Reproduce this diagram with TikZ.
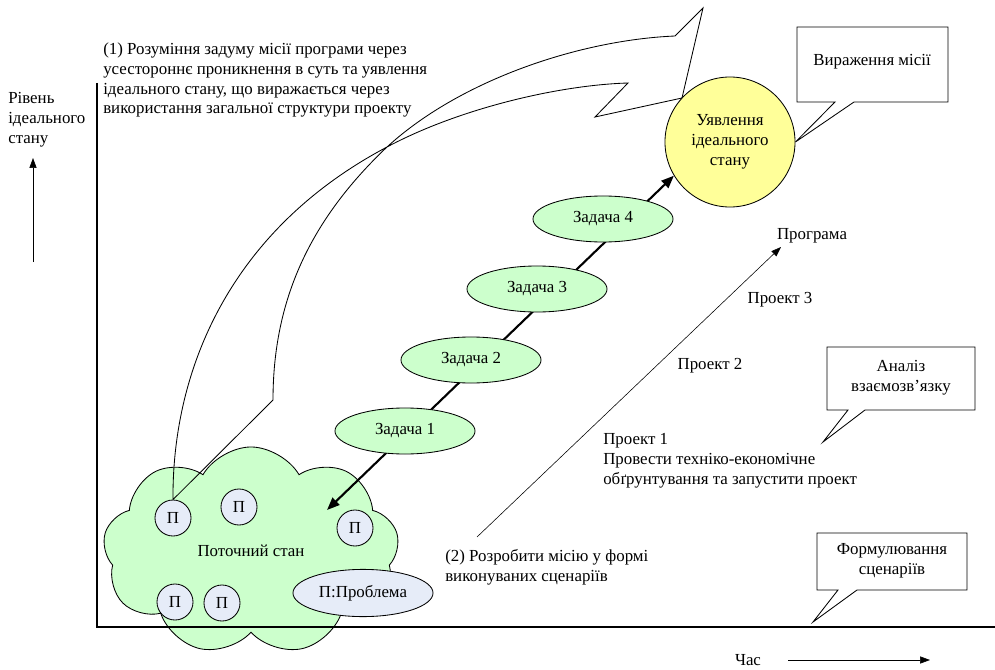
\documentclass[tikz,border=0pt]{standalone}
\usepackage{fontspec}
\setmainfont{Liberation Serif}
\usetikzlibrary{shapes,arrows,positioning,calc,arrows.meta,shapes.symbols}

\definecolor{taskgreen}{HTML}{CCFFCC}
\definecolor{idealyellow}{HTML}{FFFF99}
\definecolor{probblue}{HTML}{E6ECF8}

\begin{document}
\begin{tikzpicture}[x=0.025cm, y=-0.025cm,
    every node/.style={font=\fontsize{12}{14.2}\selectfont},
    task/.style={draw, semithick, ellipse, fill=taskgreen, minimum width=3.5cm, minimum height=1.15cm, inner sep=0pt},
    prob/.style={draw, semithick, circle, fill=probblue, minimum size=0.9cm, inner sep=0pt},
    note/.style={draw, semithick, fill=white},
    txt/.style={align=left, anchor=west, inner sep=0pt},
    bigtip/.style={line width=1.5pt, {Triangle[length=9pt,width=7pt]}-{Triangle[length=9pt,width=7pt]}},
    smalltip/.style={-{Triangle[length=7pt,width=5pt]}}]
    \useasboundingbox (0,0) rectangle (995,670);

    % Current state
    \node[cloud, draw, semithick, fill=taskgreen, cloud puffs=9, cloud puff arc=120,
          minimum width=7.4cm, minimum height=5.2cm, inner sep=0pt] (now) at (251,551) {Поточний стан};
    \node[prob] (p1) at (173,518) {П};
    \node[prob] (p2) at (239,507) {П};
    \node[prob] (p3) at (355,528) {П};
    \node[prob] (p4) at (175,602) {П};
    \node[prob] (p5) at (222,603) {П};
    \node[draw, semithick, ellipse, fill=probblue, minimum width=3.5cm, minimum height=1.18cm, inner sep=0pt] (legend) at (363,593) {П:Проблема};

    % Axes
    \draw[line width=1.2pt] (97,83) -- (97,627) -- (995,627);
    \coordinate (lv0) at (33,262);
    \coordinate (lv1) at (33,158);
    \draw[smalltip] (lv0) -- (lv1);
    \node[txt] (level) at (8,120) {Рівень\\ідеального\\стану};
    \node (time) at (748,660) {Час};
    \coordinate (t0) at (788,660);
    \coordinate (t1) at (930,660);
    \draw[smalltip] (t0) -- (t1);

    % Big curved arrow
    \draw[semithick] (p1.north) -- (273,400) .. controls (273,300) and (310,220) .. (387,147)
        .. controls (460,80) and (580,40) .. (675,36) -- (703,8) -- (682,98) -- (595,117) -- (628,83)
        .. controls (560,85) and (460,108) .. (387,147) .. controls (230,230) and (172,370) .. (p1.north) -- cycle;

    % Ideal state
    \node[draw, semithick, circle, fill=idealyellow, minimum size=3.25cm, inner sep=0pt, align=center] (ideal) at (730,142) {Уявлення\\ідеального\\стану};

    % Tasks
    \coordinate (nowpt) at (327,510);
    \draw[bigtip] (nowpt) -- (ideal.211);
    \node[task] (z1) at (405,431) {Задача 1};
    \node[task] (z2) at (471,360) {Задача 2};
    \node[task] (z3) at (537,289) {Задача 3};
    \node[task] (z4) at (603,219) {Задача 4};

    % Programme
    \coordinate (pr0) at (477,537);
    \coordinate (pr1) at (781,247);
    \draw[smalltip] (pr0) -- (pr1);
    \node (prog) at (812,236) {Програма};
    \node (proj3) at (780,300) {Проект 3};
    \node (proj2) at (710,366) {Проект 2};
    \node[txt] (proj1) at (603,461) {Проект 1\\Провести техніко-економічне\\обґрунтування та запустити проект};
    \node[txt] (step2) at (445,567) {(2) Розробити місію у формі\\виконуваних сценаріїв};
    \node[txt] (step1) at (103,80) {(1) Розуміння задуму місії програми через\\усестороннє проникнення в суть та уявлення\\ідеального стану, що виражається через\\використання загальної структури проекту};

    % Callouts
    \draw[note] (797,27) -- (948,27) -- (948,102) -- (854,102) -- (ideal.east) -- (835,102) -- (797,102) -- cycle;
    \node (mission) at (872,62) {Вираження місії};
    \coordinate (anpt) at (823,442);
    \draw[note] (827,347) -- (975,347) -- (975,410) -- (865,410) -- (anpt) -- (848,410) -- (827,410) -- cycle;
    \node[align=center] (links) at (901,378) {Аналіз\\взаємозв'язку};
    \coordinate (scpt) at (813,622);
    \draw[note] (817,533) -- (967,533) -- (967,590) -- (857,590) -- (scpt) -- (838,590) -- (817,590) -- cycle;
    \node[align=center] (scen) at (892,561) {Формулювання\\сценаріїв};
\end{tikzpicture}
\end{document}
